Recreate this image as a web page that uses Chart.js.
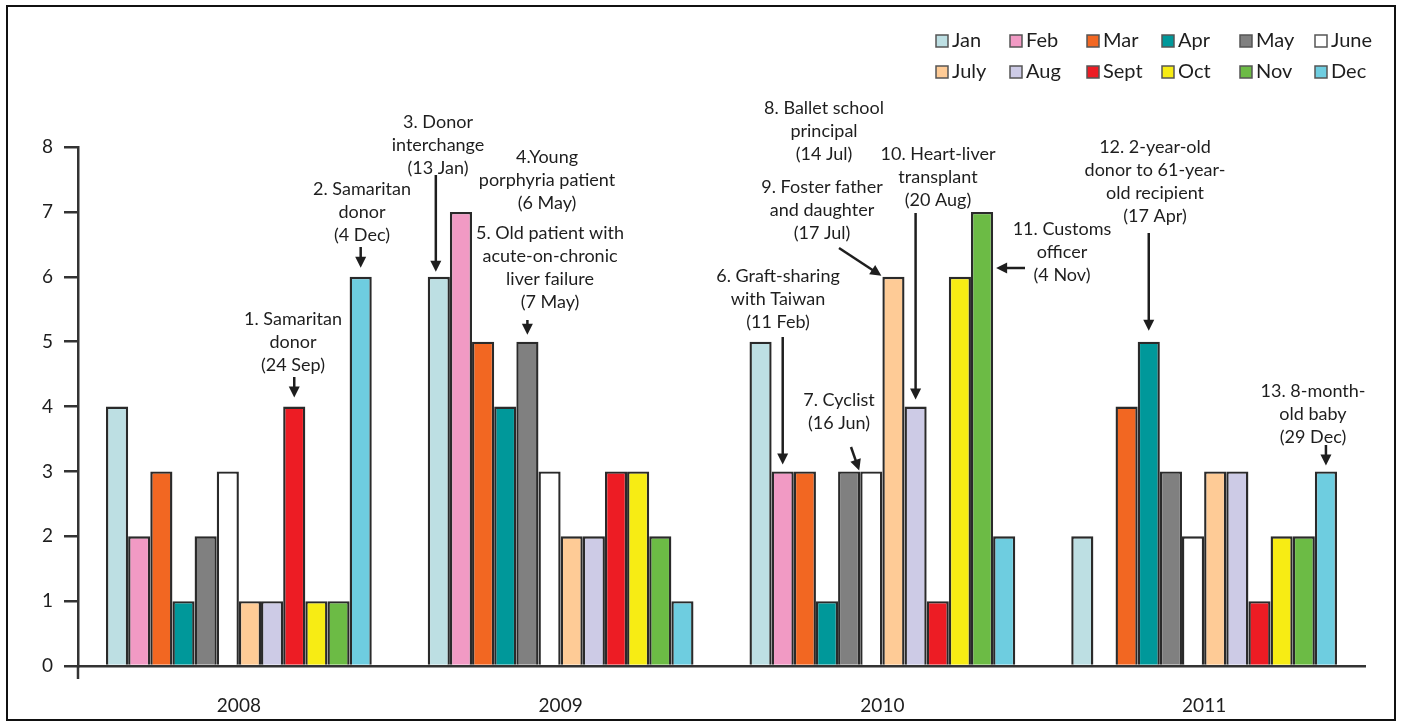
<!DOCTYPE html>
<html>
<head>
<meta charset="utf-8">
<script src="https://cdn.jsdelivr.net/npm/chart.js@4.4.1/dist/chart.umd.min.js"></script>
<style>
  html, body { margin: 0; padding: 0; background: #fff; }
  #wrap { width: 1402px; height: 726px; }
</style>
</head>
<body>
<div id="wrap"><canvas id="chart" width="1402" height="726"></canvas></div>
<script>
// --- DATA (transplants per month, 2008 -> 2011) ---
const years = ['2008', '2009', '2010', '2011'];
const months = ['Jan', 'Feb', 'Mar', 'Apr', 'May', 'June', 'July', 'Aug', 'Sept', 'Oct', 'Nov', 'Dec'];
const jan  = [4, 6, 5, 2];
const feb  = [2, 7, 3, 0];
const mar  = [3, 5, 3, 4];
const apr  = [1, 4, 1, 5];
const may  = [2, 5, 3, 3];
const june = [3, 3, 3, 2];
const july = [1, 2, 6, 3];
const aug  = [1, 2, 4, 3];
const sept = [4, 3, 1, 1];
const oct  = [1, 3, 6, 2];
const nov  = [1, 2, 7, 2];
const dec  = [6, 1, 2, 3];
const yTicks = [0, 1, 2, 3, 4, 5, 6, 7, 8];

const series = [jan, feb, mar, apr, may, june, july, aug, sept, oct, nov, dec];
const colors = ['#bddfe3', '#f19ac4', '#f26722', '#00989a', '#808080', '#ffffff',
                '#fecb96', '#cdcbe6', '#ed1c24', '#f7ec14', '#6cbb45', '#6ecde0'];

// --- ANNOTATIONS (m = month index, y = year index) ---
const notes = [
  { m: 8,  y: 0, cx: 293,  cy: 319, lines: ['1. Samaritan', 'donor', '(24 Sep)'], arrow: { type: 'down', sy: 377, gap: 9 } },
  { m: 11, y: 0, cx: 362,  cy: 189, lines: ['2. Samaritan', 'donor', '(4 Dec)'], arrow: { type: 'down', sy: 247, gap: 9 } },
  { m: 0,  y: 1, cx: 438,  cy: 122, lines: ['3. Donor', 'interchange', '(13 Jan)'], arrow: { type: 'down', sy: 175, gap: 5, dx: -3 } },
  { m: 4,  y: 1, cx: 547,  cy: 157, lines: ['4.Young', 'porphyria patient', '(6 May)'] },
  { m: 4,  y: 1, cx: 550,  cy: 233, lines: ['5. Old patient with', 'acute-on-chronic', 'liver failure', '(7 May)'], arrow: { type: 'down', sy: 320, gap: 7 } },
  { m: 1,  y: 2, cx: 778,  cy: 276, lines: ['6. Graft-sharing', 'with Taiwan', '(11 Feb)'], arrow: { type: 'down', sy: 337, gap: 7 } },
  { m: 5,  y: 2, cx: 839,  cy: 400, lines: ['7. Cyclist', '(16 Jun)'], arrow: { type: 'diag', sx: 851, sy: 447 } },
  { m: 6,  y: 2, cx: 824,  cy: 108, lines: ['8. Ballet school', 'principal', '(14 Jul)'] },
  { m: 6,  y: 2, cx: 822,  cy: 187, lines: ['9. Foster father', 'and daughter', '(17 Jul)'], arrow: { type: 'diag', sx: 839, sy: 248 } },
  { m: 7,  y: 2, cx: 938,  cy: 154, lines: ['10. Heart-liver', 'transplant', '(20 Aug)'], arrow: { type: 'down', sy: 213, gap: 7 } },
  { m: 10, y: 2, cx: 1062, cy: 229, lines: ['11. Customs', 'officer', '(4 Nov)'], arrow: { type: 'left', sx: 1025, sy: 268 } },
  { m: 3,  y: 3, cx: 1155, cy: 147, lines: ['12. 2-year-old', 'donor to 61-year-', 'old recipient', '(17 Apr)'], arrow: { type: 'down', sy: 233, gap: 11 } },
  { m: 11, y: 3, cx: 1313, cy: 391, lines: ['13. 8-month-', 'old baby', '(29 Dec)'], arrow: { type: 'down', sy: 445, gap: 6 } }
];

const FONT = 'Lato, "Open Sans", sans-serif';
const INK = '#1e1e1e';

function drawArrow(ctx, x0, y0, x1, y1) {
    const ang = Math.atan2(y1 - y0, x1 - x0);
    const head = 11, half = 5.5;
    ctx.beginPath();
    ctx.moveTo(x0, y0);
    ctx.lineTo(x1 - Math.cos(ang) * head * 0.8, y1 - Math.sin(ang) * head * 0.8);
    ctx.stroke();
    ctx.beginPath();
    ctx.moveTo(x1, y1);
    ctx.lineTo(x1 - Math.cos(ang) * head + Math.sin(ang) * half, y1 - Math.sin(ang) * head - Math.cos(ang) * half);
    ctx.lineTo(x1 - Math.cos(ang) * head - Math.sin(ang) * half, y1 - Math.sin(ang) * head + Math.cos(ang) * half);
    ctx.closePath();
    ctx.fill();
}

const decorPlugin = {
    id: 'decor',
    beforeDraw(chart) {
        const ctx = chart.ctx;
        ctx.save();
        ctx.fillStyle = '#fff';
        ctx.fillRect(0, 0, chart.width, chart.height);
        ctx.restore();
    },
    afterDraw(chart) {
        const ctx = chart.ctx;
        const area = chart.chartArea;
        ctx.save();

        // y axis stub below the baseline
        ctx.strokeStyle = '#333';
        ctx.lineWidth = 2.5;
        ctx.beginPath();
        ctx.moveTo(area.left, area.bottom);
        ctx.lineTo(area.left, area.bottom + 13);
        ctx.stroke();

        // legend (2 rows x 6 columns)
        const colX = [936, 1010, 1087, 1162, 1240, 1315];
        const rowY = [41, 72];
        ctx.font = '20px ' + FONT;
        ctx.textBaseline = 'middle';
        ctx.textAlign = 'left';
        months.forEach((name, i) => {
            const x = colX[i % 6], y = rowY[Math.floor(i / 6)];
            ctx.fillStyle = colors[i];
            ctx.fillRect(x, y - 6, 12, 12);
            ctx.strokeStyle = '#555';
            ctx.lineWidth = 1.5;
            ctx.strokeRect(x, y - 6, 12, 12);
            ctx.fillStyle = INK;
            ctx.fillText(name, x + 16, y);
        });

        // annotations + arrows
        ctx.font = '18px ' + FONT;
        ctx.textAlign = 'center';
        ctx.fillStyle = INK;
        ctx.strokeStyle = INK;
        ctx.lineWidth = 2.5;
        notes.forEach(n => {
            n.lines.forEach((t, k) => ctx.fillText(t, n.cx, n.cy + k * 23));
            if (!n.arrow) return;
            const bar = chart.getDatasetMeta(n.m).data[n.y];
            const a = n.arrow;
            if (a.type === 'down') {
                const x = bar.x + (a.dx || 0);
                drawArrow(ctx, x, a.sy, x, bar.y - a.gap);
            } else if (a.type === 'diag') {
                drawArrow(ctx, a.sx, a.sy, bar.x - bar.width / 2 - 1, bar.y - 1);
            } else if (a.type === 'left') {
                drawArrow(ctx, a.sx, a.sy, bar.x + bar.width / 2 + 3, a.sy);
            }
        });

        // frame
        ctx.strokeStyle = '#111';
        ctx.lineWidth = 2;
        ctx.strokeRect(7, 6, 1388, 714);
        ctx.restore();
    }
};

new Chart(document.getElementById('chart'), {
    type: 'bar',
    data: {
        labels: years,
        datasets: months.map((name, i) => ({
            label: name,
            data: series[i],
            backgroundColor: colors[i],
            borderColor: '#2a2a2a',
            borderWidth: 2.4,
            categoryPercentage: 0.826,
            barPercentage: 1.0
        }))
    },
    options: {
        responsive: false,
        animation: false,
        events: [],
        layout: { padding: { top: 147, right: 37, left: 0, bottom: 0 } },
        plugins: { legend: { display: false }, tooltip: { enabled: false } },
        scales: {
            x: {
                grid: { display: false },
                border: { display: true, color: '#333', width: 2.5 },
                ticks: { color: INK, font: { family: FONT, size: 19 }, padding: 20 },
                afterFit: s => { s.height = 60; }
            },
            y: {
                min: 0, max: 8,
                afterBuildTicks: s => { s.ticks = yTicks.map(v => ({ value: v })); },
                grid: { drawOnChartArea: false, tickLength: 14, color: '#333', lineWidth: 2.5 },
                border: { display: true, color: '#333', width: 2.5 },
                ticks: { color: INK, font: { family: FONT, size: 19 }, padding: 11 },
                afterFit: s => { s.width = 78; }
            }
        }
    },
    plugins: [decorPlugin]
});
</script>
</body>
</html>
